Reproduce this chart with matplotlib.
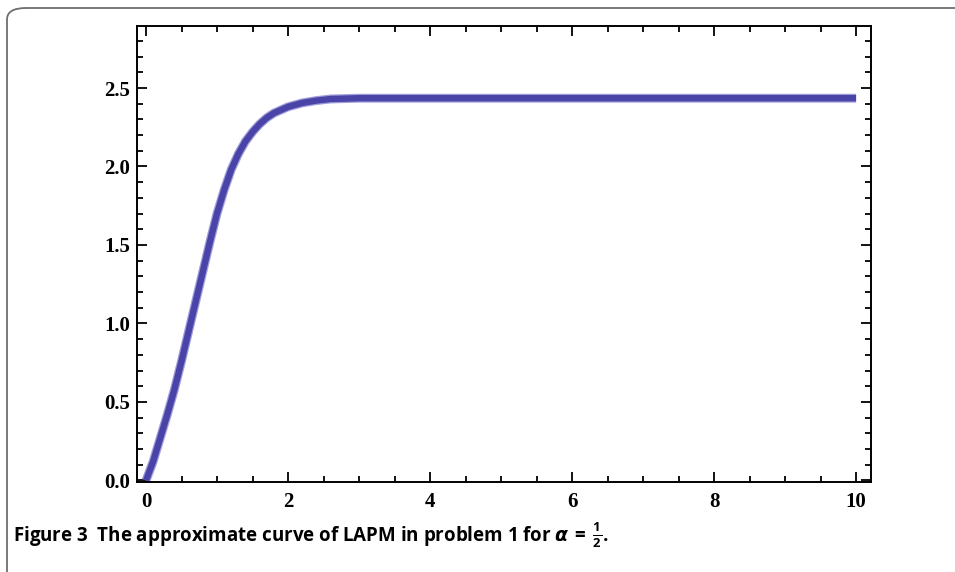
import numpy as np
import matplotlib
matplotlib.use("Agg")
import matplotlib.pyplot as plt
from matplotlib.patches import FancyBboxPatch
from matplotlib.ticker import MultipleLocator

# Valores leídos de la curva aproximada (LAPM, alpha = 1/2)
x_vals = [0.0, 0.1, 0.2, 0.3, 0.4, 0.5, 0.6, 0.7, 0.8, 0.9, 1.0, 1.1, 1.2,
          1.3, 1.4, 1.5, 1.6, 1.7, 1.8, 1.9, 2.0, 2.2, 2.4, 2.6, 3.0, 4.0, 6.0, 8.0, 10.0]
y_vals = [0.0, 0.12, 0.27, 0.42, 0.58, 0.76, 0.95, 1.14, 1.33, 1.52, 1.70, 1.85, 1.98,
          2.08, 2.16, 2.22, 2.27, 2.31, 2.34, 2.36, 2.38, 2.405, 2.42, 2.43, 2.435, 2.435,
          2.435, 2.435, 2.435]
x_ticks = [0, 2, 4, 6, 8, 10]
y_ticks = [0.0, 0.5, 1.0, 1.5, 2.0, 2.5]
caption = r"Figure 3  The approximate curve of LAPM in problem 1 for $\alpha\,=\,\mathbf{\frac{1}{2}}$."

plt.rcParams["font.family"] = ["Liberation Serif", "DejaVu Sans"]
plt.rcParams["mathtext.fontset"] = "custom"
plt.rcParams["mathtext.it"] = "DejaVu Sans:italic:bold"
plt.rcParams["mathtext.bf"] = "Open Sans:bold"
plt.rcParams["mathtext.rm"] = "Open Sans:bold"

fig = plt.figure(figsize=(9.55, 5.72), dpi=100)

# marco gris con esquina redondeada
borde = FancyBboxPatch((7 / 955, -0.2), 1.2, 1.2 - 8 / 572,
                       boxstyle="round,pad=0,rounding_size=0.02",
                       transform=fig.transFigure, facecolor="none",
                       edgecolor="#6e6e6e", linewidth=1.3, clip_on=False)
fig.patches.append(borde)

ax = fig.add_axes([137 / 955, 1 - 482 / 572, (871 - 137) / 955, (482 - 26) / 572])

# curva con halo claro
ax.plot(x_vals, y_vals, color="#a09dda", linewidth=6.4, solid_capstyle="butt")
ax.plot(x_vals, y_vals, color="#4a44a8", linewidth=4.6, solid_capstyle="butt")

ax.set_xlim(-0.127, 10.21)
ax.set_ylim(-0.01, 2.895)
ax.set_xticks(x_ticks)
ax.set_yticks(y_ticks)
ax.set_yticklabels([f"{v:.1f}" for v in y_ticks])
ax.xaxis.set_minor_locator(MultipleLocator(0.5))
ax.yaxis.set_minor_locator(MultipleLocator(0.1))

ax.tick_params(which="both", direction="in", top=True, right=True, width=1.3, color="black")
ax.tick_params(which="major", length=7, labelsize=15)
ax.tick_params(which="minor", length=4)
ax.tick_params(axis="x", which="major", pad=7)
ax.tick_params(axis="y", which="major", pad=5)
for lab in ax.get_xticklabels() + ax.get_yticklabels():
    lab.set_fontweight("bold")
for s in ax.spines.values():
    s.set_linewidth(1.4)

fig.text(13 / 955, 1 - 535 / 572, caption, fontsize=13.5, fontweight="bold",
         family="Open Sans", va="center", ha="left")

fig.savefig("out.png", dpi=100)
